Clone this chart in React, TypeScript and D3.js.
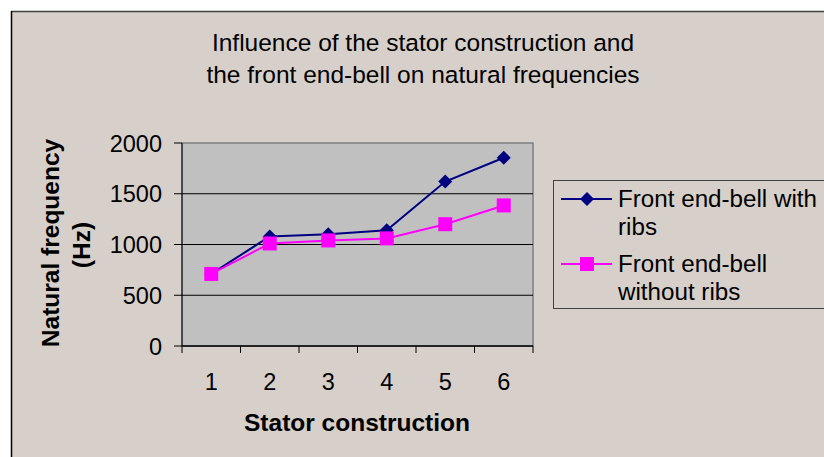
import React from "react";
import * as d3 from "d3";

const categories = ["1", "2", "3", "4", "5", "6"];
const withRibs = [710, 1080, 1100, 1140, 1620, 1855];
const withoutRibs = [710, 1010, 1040, 1060, 1200, 1385];
const yTicks = [0, 500, 1000, 1500, 2000];
const seriesNames = ["Front end-bell with ribs", "Front end-bell without ribs"];
const titleLines = ["Influence of the stator construction and", "the front end-bell on natural frequencies"];

const W = 824;
const H = 457;
const plot = { left: 182, right: 533, top: 143, bottom: 346 };
const FONT = "'Liberation Sans', Arial, sans-serif";

export default function App() {
  const x = d3.scaleBand<string>().domain(categories).range([plot.left, plot.right]).padding(0);
  const y = d3.scaleLinear().domain([0, 2000]).range([plot.bottom, plot.top]);
  const cx = (c: string) => (x(c) as number) + x.bandwidth() / 2;

  const line = d3
    .line<number>()
    .x((_, i) => cx(categories[i]))
    .y((d) => y(d));

  const navy = "#000080";
  const magenta = "#FF00FF";

  const diamond = (px: number, py: number, r: number) =>
    `M${px},${py - r}L${px + r},${py}L${px},${py + r}L${px - r},${py}Z`;

  const xTickPositions = [...categories.map((c) => x(c) as number), plot.right];

  return (
    <svg
      width={W}
      height={H}
      style={{ position: "absolute", left: 0, top: 0, fontFamily: FONT }}
    >
      <rect x={0} y={0} width={W} height={H} fill="#ffffff" />
      <rect x={11} y={11} width={W + 20} height={H + 20} fill="#D7CFC9" />
      <line x1={11} y1={11.5} x2={W} y2={11.5} stroke="#404040" strokeWidth={1.5} />
      <line x1={11.5} y1={11} x2={11.5} y2={H} stroke="#000" strokeWidth={1.5} />

      {/* Title */}
      {titleLines.map((t, i) => (
        <text key={i} x={423} y={51 + i * 31.5} fontSize={24.5} textAnchor="middle" fill="#000">
          {t}
        </text>
      ))}

      {/* Plot area */}
      <rect
        x={plot.left}
        y={plot.top}
        width={plot.right - plot.left}
        height={plot.bottom - plot.top}
        fill="#C0C0C0"
        stroke="#808080"
        strokeWidth={1.5}
      />
      {yTicks
        .filter((v) => v > 0 && v < 2000)
        .map((v) => (
          <line key={v} x1={plot.left} x2={plot.right} y1={y(v)} y2={y(v)} stroke="#000" strokeWidth={1} />
        ))}
      {/* axes */}
      <line x1={plot.left} x2={plot.left} y1={plot.top} y2={plot.bottom} stroke="#000" strokeWidth={1} />
      <line x1={plot.left} x2={plot.right} y1={plot.bottom} y2={plot.bottom} stroke="#000" strokeWidth={1.5} />
      {yTicks.map((v) => (
        <g key={v}>
          <line x1={plot.left - 8} x2={plot.left} y1={y(v)} y2={y(v)} stroke="#000" strokeWidth={1} />
          <text x={162} y={y(v) + 8.5} fontSize={23.5} textAnchor="end" fill="#000">
            {v}
          </text>
        </g>
      ))}
      {xTickPositions.map((p, i) => (
        <line key={i} x1={p} x2={p} y1={plot.bottom} y2={plot.bottom + 7} stroke="#000" strokeWidth={1} />
      ))}
      {categories.map((c) => (
        <text key={c} x={cx(c)} y={390} fontSize={23.5} textAnchor="middle" fill="#000">
          {c}
        </text>
      ))}

      {/* Axis titles */}
      <text x={357} y={431} fontSize={24.5} fontWeight="bold" textAnchor="middle" fill="#000">
        Stator construction
      </text>
      <text transform="translate(59,243) rotate(-90)" fontSize={24.5} fontWeight="bold" textAnchor="middle" fill="#000">
        Natural frequency
      </text>
      <text transform="translate(90,245) rotate(-90)" fontSize={24.5} fontWeight="bold" textAnchor="middle" fill="#000">
        (Hz)
      </text>

      {/* Series */}
      <path d={line(withRibs) as string} fill="none" stroke={navy} strokeWidth={2} />
      <path d={line(withoutRibs) as string} fill="none" stroke={magenta} strokeWidth={2} />
      {withRibs.map((v, i) => (
        <path key={i} d={diamond(cx(categories[i]), y(v), 7)} fill={navy} />
      ))}
      {withoutRibs.map((v, i) => (
        <rect key={i} x={cx(categories[i]) - 7} y={y(v) - 7} width={14} height={14} fill={magenta} />
      ))}

      {/* Legend */}
      <rect x={553.5} y={180.5} width={300} height={128} fill="#D7CFC9" stroke="#404040" strokeWidth={1} />
      <line x1={561} x2={612} y1={199} y2={199} stroke={navy} strokeWidth={2} />
      <path d={diamond(587, 199, 7)} fill={navy} />
      <text x={618} y={207} fontSize={24.2} fill="#000">Front end-bell with</text>
      <text x={618} y={235} fontSize={24.2} fill="#000">ribs</text>
      <line x1={561} x2={612} y1={264} y2={264} stroke={magenta} strokeWidth={2} />
      <rect x={580} y={257} width={14} height={14} fill={magenta} />
      <text x={618} y={272} fontSize={24.2} fill="#000">Front end-bell</text>
      <text x={618} y={300} fontSize={24.2} fill="#000">without ribs</text>
      <title>{seriesNames.join(", ")}</title>
    </svg>
  );
}
